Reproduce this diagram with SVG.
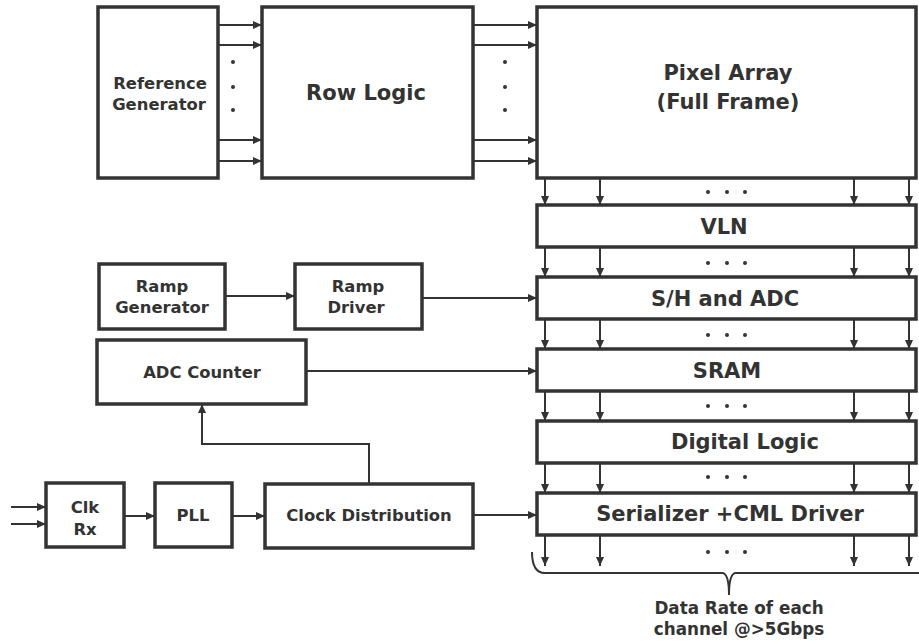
<svg xmlns="http://www.w3.org/2000/svg" width="919" height="643" viewBox="0 0 919 643">
<style>
.box{fill:#fff;stroke:#333;stroke-width:3.5}
.ln{fill:none;stroke:#333;stroke-width:2}
.ar{fill:none;stroke:#333;stroke-width:2;marker-end:url(#ah)}
.t{font-family:"DejaVu Sans",Verdana,sans-serif;font-weight:bold;fill:#333;text-anchor:middle}
.s16{font-size:16.4px}
.s17{font-size:16.8px}
.s20{font-size:21px}
.dot{fill:#333}
</style>
<defs>
<marker id="ah" markerWidth="10" markerHeight="10" refX="9" refY="5" orient="auto" markerUnits="userSpaceOnUse">
<path d="M0,1 L9,5 L0,9 Z" fill="#333"/>
</marker>
</defs>
<rect width="919" height="643" fill="#fff"/>
<g id="connectors">
<path class="ar" d="M218,25H262"/><path class="ar" d="M218,45H262"/><path class="ar" d="M218,140H262"/><path class="ar" d="M218,161H262"/>
<path class="ar" d="M473,25H537"/><path class="ar" d="M473,45H537"/><path class="ar" d="M473,140H537"/><path class="ar" d="M473,161H537"/>
<path class="ar" d="M545,178V205"/><path class="ar" d="M600,178V205"/><path class="ar" d="M854,178V205"/><path class="ar" d="M909,178V205"/>
<path class="ar" d="M545,247V277"/><path class="ar" d="M600,247V277"/><path class="ar" d="M854,247V277"/><path class="ar" d="M909,247V277"/>
<path class="ar" d="M545,319V349"/><path class="ar" d="M600,319V349"/><path class="ar" d="M854,319V349"/><path class="ar" d="M909,319V349"/>
<path class="ar" d="M545,391V421"/><path class="ar" d="M600,391V421"/><path class="ar" d="M854,391V421"/><path class="ar" d="M909,391V421"/>
<path class="ar" d="M545,463V493"/><path class="ar" d="M600,463V493"/><path class="ar" d="M854,463V493"/><path class="ar" d="M909,463V493"/>
<path class="ar" d="M545,535V566"/><path class="ar" d="M600,535V566"/><path class="ar" d="M854,535V566"/><path class="ar" d="M909,535V566"/>
<path class="ar" d="M225,296H295"/>
<path class="ar" d="M422,298H537"/>
<path class="ar" d="M306,371H537"/>
<path class="ar" d="M11,507H46"/><path class="ar" d="M11,524H46"/>
<path class="ar" d="M124,516H155"/>
<path class="ar" d="M232,516H265"/>
<path class="ar" d="M473,515H537"/>
<path class="ar" d="M369,484V444H202V404"/>
<path class="ln" d="M532,552Q532,573 545,573H722Q729,573 729,595Q729,573 736,573H919"/>
</g>
<g class="dot">
<circle cx="233" cy="62" r="2"/><circle cx="233" cy="87" r="2"/><circle cx="233" cy="110" r="2"/>
<circle cx="505" cy="62" r="2"/><circle cx="505" cy="87" r="2"/><circle cx="505" cy="110" r="2"/>
<circle cx="708" cy="192" r="2"/><circle cx="727" cy="192" r="2"/><circle cx="745" cy="192" r="2"/>
<circle cx="708" cy="263" r="2"/><circle cx="727" cy="263" r="2"/><circle cx="745" cy="263" r="2"/>
<circle cx="708" cy="335" r="2"/><circle cx="727" cy="335" r="2"/><circle cx="745" cy="335" r="2"/>
<circle cx="708" cy="406" r="2"/><circle cx="727" cy="406" r="2"/><circle cx="745" cy="406" r="2"/>
<circle cx="708" cy="477" r="2"/><circle cx="727" cy="477" r="2"/><circle cx="745" cy="477" r="2"/>
<circle cx="708" cy="552" r="2"/><circle cx="727" cy="552" r="2"/><circle cx="745" cy="552" r="2"/>
</g>
<g id="refgen"><rect class="box" x="98" y="7" width="120" height="171"/>
<text class="t s16" x="160" y="89">Reference</text><text class="t s16" x="159" y="110">Generator</text></g>
<g id="rowlogic"><rect class="box" x="262" y="7" width="211" height="171"/>
<text class="t s20" x="366" y="100">Row Logic</text></g>
<g id="pixel"><rect class="box" x="537" y="7" width="379" height="171"/>
<text class="t s20" x="728" y="80">Pixel Array</text><text class="t s20" x="728" y="109">(Full Frame)</text></g>
<g id="vln"><rect class="box" x="537" y="205" width="379" height="42"/>
<text class="t s20" x="724" y="234">VLN</text></g>
<g id="sh"><rect class="box" x="537" y="277" width="379" height="42"/>
<text class="t s20" x="725" y="306">S/H and ADC</text></g>
<g id="sram"><rect class="box" x="537" y="349" width="379" height="42"/>
<text class="t s20" x="727" y="378">SRAM</text></g>
<g id="digital"><rect class="box" x="537" y="421" width="379" height="42"/>
<text class="t s20" x="745" y="449">Digital Logic</text></g>
<g id="serializer"><rect class="box" x="537" y="493" width="379" height="42"/>
<text class="t s20" x="730" y="521">Serializer +CML Driver</text></g>
<g id="rampgen"><rect class="box" x="99" y="264" width="126" height="65"/>
<text class="t s16" x="162" y="292">Ramp</text><text class="t s16" x="162" y="313">Generator</text></g>
<g id="rampdrv"><rect class="box" x="295" y="264" width="127" height="65"/>
<text class="t s16" x="358" y="292">Ramp</text><text class="t s16" x="356" y="313">Driver</text></g>
<g id="adccounter"><rect class="box" x="97" y="340" width="209" height="64"/>
<text class="t s16" x="202" y="378">ADC Counter</text></g>
<g id="clkrx"><rect class="box" x="46" y="483" width="78" height="64"/>
<text class="t s16" x="85" y="513">Clk</text><text class="t s16" x="85" y="535">Rx</text></g>
<g id="pll"><rect class="box" x="155" y="483" width="77" height="64"/>
<text class="t s16" x="193" y="521">PLL</text></g>
<g id="clkdist"><rect class="box" x="265" y="484" width="208" height="64"/>
<text class="t s16" x="369" y="521">Clock Distribution</text></g>
<g id="note">
<text class="t s17" x="739" y="614">Data Rate of each</text><text class="t s17" x="739" y="635">channel @&gt;5Gbps</text></g>
</svg>
